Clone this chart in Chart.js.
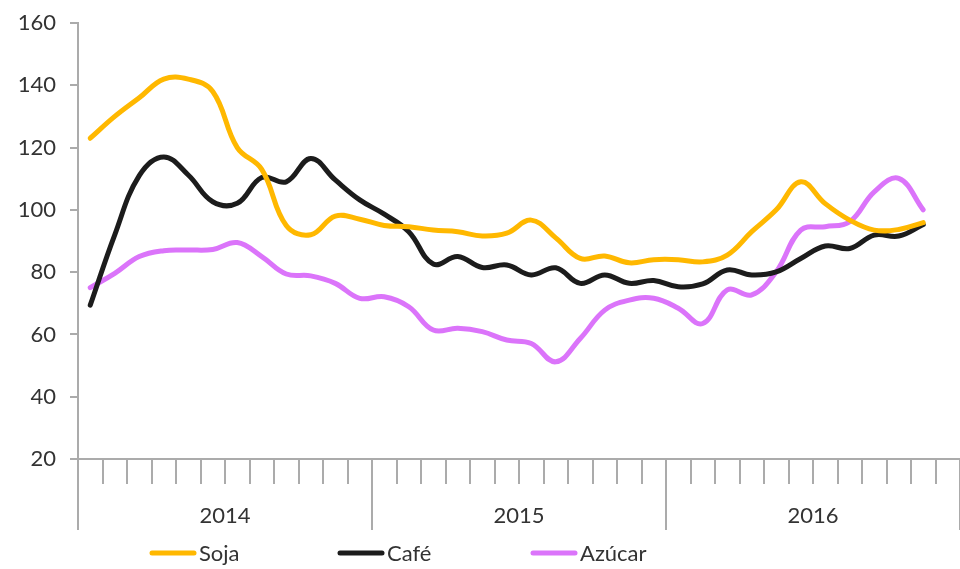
<!DOCTYPE html>
<html>
<head>
<meta charset="utf-8">
<script src="https://cdn.jsdelivr.net/npm/chart.js@4.4.1/dist/chart.umd.min.js"></script>
<style>
  html, body { margin: 0; padding: 0; background: #fff; }
  #wrap { width: 960px; height: 569px; }
</style>
</head>
<body>
<div id="wrap"><canvas id="lineChart" width="960" height="569"></canvas></div>
<script>
// meses (ene-2014 .. dic-2016), el último sin dato
const meses = [
  "ene-14","feb-14","mar-14","abr-14","may-14","jun-14","jul-14","ago-14","sep-14","oct-14","nov-14","dic-14",
  "ene-15","feb-15","mar-15","abr-15","may-15","jun-15","jul-15","ago-15","sep-15","oct-15","nov-15","dic-15",
  "ene-16","feb-16","mar-16","abr-16","may-16","jun-16","jul-16","ago-16","sep-16","oct-16","nov-16","dic-16"
];
const anios = ["2014", "2015", "2016"];

const soja = [123, 130, 136, 142, 142, 138, 120, 113, 95, 92, 98, 97,
              95, 94.6, 93.5, 93, 91.6, 92.5, 96.7, 91, 84.4, 85.2, 83, 84,
              84, 83.3, 85.5, 93, 100, 109, 102, 96.7, 93.5, 93.7, 95.9];
const cafe = [69.4, 92, 111, 117, 111.2, 102.6, 102.1, 110.4, 109, 116.5, 109.6, 103.2,
              98.6, 93, 82.6, 85, 81.5, 82.3, 79.1, 81.4, 76.4, 79.1, 76.4, 77.3,
              75.3, 76.2, 80.7, 79.1, 80.1, 84.4, 88.4, 87.6, 91.9, 91.6, 95.3];
const azucar = [75, 79.6, 85, 86.9, 87.1, 87.3, 89.5, 85, 79.4, 78.8, 76.4, 71.6,
                72.1, 68.9, 61.4, 62, 60.9, 58.2, 57.1, 51.2, 58.7, 67.8, 71, 71.6,
                68.4, 63.5, 74.3, 72.7, 80.1, 93.5, 94.6, 96.2, 105.8, 110.1, 100];

const yTicks = { min: 20, max: 160, step: 20 };

const axisGray = "#ababab";
const textColor = "#333333";
const fontFamily = "Lato, 'Noto Sans', sans-serif";

// leyenda dibujada a mano (muestra de línea pegada al texto)
const legendX = [152, 340, 533];
const legendPlugin = {
  id: "bottomLegend",
  afterDraw(chart) {
    const ctx = chart.ctx;
    const y = 553;
    ctx.save();
    chart.data.datasets.forEach(function (ds, i) {
      const x = legendX[i];
      ctx.strokeStyle = ds.borderColor;
      ctx.lineWidth = 5;
      ctx.lineCap = "round";
      ctx.beginPath();
      ctx.moveTo(x, y);
      ctx.lineTo(x + 42, y);
      ctx.stroke();
      ctx.fillStyle = textColor;
      ctx.font = "22px " + fontFamily;
      ctx.textBaseline = "middle";
      ctx.textAlign = "left";
      ctx.fillText(ds.label, x + 47, y + 1);
    });
    ctx.restore();
  }
};

const dataVal = {
  labels: meses,
  datasets: [
    { label: "Soja", data: soja, borderColor: "#FFB800" },
    { label: "Café", data: cafe, borderColor: "#1c1c1c" },
    { label: "Azúcar", data: azucar, borderColor: "#DB74FA" }
  ]
};
dataVal.datasets.forEach(function (ds) {
  ds.borderWidth = 5;
  ds.pointRadius = 0;
  ds.tension = 0.4;
  ds.fill = false;
  ds.borderCapStyle = "round";
});

const config = {
  type: "line",
  data: dataVal,
  options: {
    responsive: false,
    animation: false,
    devicePixelRatio: 1,
    layout: { padding: { top: 23, right: 0, bottom: 40, left: 0 } },
    plugins: {
      legend: { display: false },
      tooltip: { enabled: false }
    },
    scales: {
      x: {
        type: "category",
        position: "bottom",
        offset: true,
        grid: {
          offset: true,
          drawOnChartArea: false,
          drawTicks: true,
          tickLength: 25,
          color: axisGray,
          lineWidth: 2
        },
        border: { display: true, color: axisGray, width: 2 },
        ticks: { display: false },
        afterFit: function (s) { s.height = 25; }
      },
      years: {
        type: "category",
        position: "bottom",
        labels: anios,
        offset: true,
        grid: {
          offset: true,
          drawOnChartArea: false,
          drawTicks: true,
          tickLength: 46,
          color: axisGray,
          lineWidth: 2
        },
        border: { display: false },
        ticks: {
          color: textColor,
          font: { family: fontFamily, size: 22 },
          padding: -27,
          maxRotation: 0
        },
        afterFit: function (s) { s.height = 45; }
      },
      y: {
        min: yTicks.min,
        max: yTicks.max,
        grid: {
          drawOnChartArea: false,
          drawTicks: true,
          tickLength: 8,
          color: axisGray,
          lineWidth: 2
        },
        border: { display: true, color: axisGray, width: 2 },
        ticks: {
          stepSize: yTicks.step,
          color: textColor,
          font: { family: fontFamily, size: 22 },
          padding: 14
        },
        afterFit: function (s) {
          s.width = 78;
          s.paddingTop = 0;
          s.paddingBottom = 0;
        }
      }
    }
  },
  plugins: [legendPlugin]
};

const chart = new Chart(document.getElementById("lineChart"), config);
</script>
</body>
</html>
